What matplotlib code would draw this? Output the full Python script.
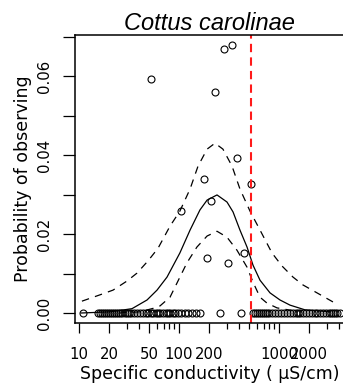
import matplotlib
matplotlib.use("Agg")
import matplotlib.pyplot as plt
from matplotlib.ticker import FixedLocator, NullFormatter, FixedFormatter

# Observed occurrence probabilities (non-zero sites)
obs_cond = [52.5, 229, 284, 341, 378, 178, 525, 209, 104, 450, 192, 311]
obs_prob = [0.0592, 0.0559, 0.0668, 0.0678, 0.0392, 0.0339, 0.0327, 0.0284,
            0.0259, 0.0151, 0.0140, 0.0126]

# Sites where the species was absent
zero_cond = [11.0, 15.5, 16.2, 17.0, 17.8, 18.6, 19.5, 20.4, 21.4, 22.4, 23.4,
             24.5, 25.7, 26.9, 28.8, 30.2, 31.6, 33.1, 35.5, 38.0, 40.7, 43.7,
             46.8, 49.0, 52.5, 55.0, 58.9, 61.7, 64.6, 69.2, 74.1, 77.6, 81.3,
             87.1, 91.2, 97.7, 105, 115, 123, 135, 148, 162, 257, 417, 550,
             575, 603, 631, 661, 692, 724, 759, 794, 851, 912, 977, 1047, 1122,
             1202, 1288, 1380, 1479, 1549, 1622, 1738, 1862, 1995, 2138, 2291,
             2399, 2570, 2754, 2951, 3162, 3311, 3467, 3631, 3802, 4074]

# Fitted response curve and its confidence band
fit_cond = [10.5, 20.4, 28.2, 33.9, 47.9, 60.3, 75.9, 102, 129, 162, 191, 240,
            302, 347, 407, 479, 550, 646, 813, 1023, 1288, 1820, 3236]
fit_prob = [0.0000, 0.0003, 0.0008, 0.0011, 0.0033, 0.0058, 0.0091, 0.0152,
            0.0210, 0.0261, 0.0286, 0.0299, 0.0281, 0.0256, 0.0210, 0.0167,
            0.0121, 0.0083, 0.0051, 0.0033, 0.0020, 0.0008, 0.0003]

upper_cond = [10.7, 16.2, 21.9, 30.2, 38.0, 49.0, 61.7, 81.3, 102, 129, 155,
              191, 229, 275, 339, 407, 513, 646, 851, 1072, 1380, 1738, 2399,
              3467]
upper_prob = [0.0030, 0.0046, 0.0058, 0.0081, 0.0101, 0.0132, 0.0164, 0.0220,
              0.0258, 0.0314, 0.0372, 0.0415, 0.0430, 0.0415, 0.0372, 0.0314,
              0.0258, 0.0210, 0.0152, 0.0119, 0.0091, 0.0071, 0.0051, 0.0028]

lower_cond = [25.1, 40.7, 57.5, 64.6, 81.3, 95.5, 120, 151, 191, 240, 302,
              380, 479, 550, 646, 759, 955, 1445]
lower_prob = [0.0000, 0.0003, 0.0013, 0.0018, 0.0040, 0.0076, 0.0127, 0.0167,
              0.0195, 0.0207, 0.0192, 0.0159, 0.0116, 0.0078, 0.0040, 0.0025,
              0.0013, 0.0005]

threshold = 530

x_major = [10, 20, 50, 100, 200, 1000, 2000]
x_major_labels = ["10", "20", "50", "100", "200", "1000", "2000"]
x_minor = [30, 40, 60, 70, 80, 90, 300, 400, 500, 600, 700, 800, 900, 3000, 4000]
y_ticks = [0.00, 0.01, 0.02, 0.03, 0.04, 0.05, 0.06, 0.07]
y_tick_labels = ["0.00", "", "0.02", "", "0.04", "", "0.06", ""]

W, H = 343, 391
fig = plt.figure(figsize=(W / 100, H / 100), dpi=100)
ax = fig.add_axes([75 / W, (H - 323) / H, (344 - 75) / W, (323 - 35) / H])

ax.set_xscale("log")
ax.set_xlim(10 ** 0.96, 10 ** 3.65)
ax.set_ylim(-0.00253, 0.0704)

ax.plot(fit_cond, fit_prob, color="black", lw=0.9)
ax.plot(upper_cond, upper_prob, color="black", lw=0.9, dashes=(6, 5))
ax.plot(lower_cond, lower_prob, color="black", lw=0.9, dashes=(6, 5))

ax.plot(zero_cond, [0.0] * len(zero_cond), ls="none", marker="o", ms=5,
        mfc="none", mec="black", mew=0.8)
ax.plot(obs_cond, obs_prob, ls="none", marker="o", ms=5,
        mfc="none", mec="black", mew=0.8)

ax.axvline(threshold, color="#ff1a1a", lw=1.5, dashes=(4, 2.5))

for s in ax.spines.values():
    s.set_linewidth(1.1)

ax.xaxis.set_major_locator(FixedLocator(x_major))
ax.xaxis.set_major_formatter(FixedFormatter(x_major_labels))
ax.xaxis.set_minor_locator(FixedLocator(x_minor))
ax.xaxis.set_minor_formatter(NullFormatter())
ax.tick_params(axis="x", which="major", length=7.5, width=0.9, pad=10,
               labelsize=10.7)
ax.tick_params(axis="x", which="minor", length=4.5, width=0.9)

ax.set_yticks(y_ticks)
ax.set_yticklabels(y_tick_labels, rotation=90, va="center")
ax.tick_params(axis="y", length=8.5, width=0.9, pad=8, labelsize=10.7)

ax.set_xlabel("Specific conductivity ( µS/cm)", fontsize=12.5, labelpad=2)
ax.set_ylabel("Probability of observing", fontsize=12.5, labelpad=4)
ax.set_title("Cottus carolinae", fontsize=17, style="italic",
             family="Liberation Sans", pad=1)

fig.savefig("out.png", dpi=100)
